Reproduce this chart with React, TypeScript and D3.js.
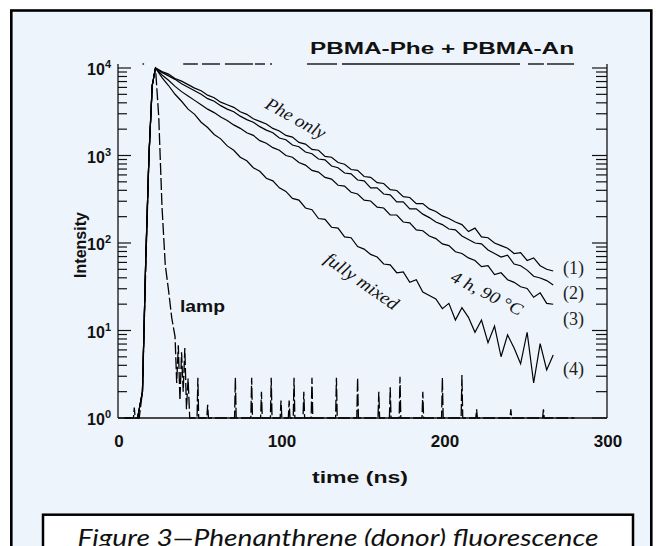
import React from 'react';
import * as d3 from 'd3';

const W = 656;
const H = 546;

// x ticks (ns) and y decades
const xTickValues = [0, 100, 200, 300];
const yDecadeExps = [0, 1, 2, 3, 4];

// shared rise of the decays (time ns, log10 counts)
const riseTimes = [12, 15, 17, 19, 21, 23];
const riseLog = [0, 0.3, 1.8, 3.0, 3.8, 4.0];

// decay sampling times (ns)
const decayTimes = [27, 31, 35, 39, 43, 47, 51, 55, 59, 63, 67, 71, 75, 79, 83, 87, 91, 95, 99, 103, 107, 111, 115, 119, 123, 127, 131, 135, 139, 143, 147, 151, 155, 159, 163, 167, 171, 175, 179, 183, 187, 191, 195, 199, 203, 207, 211, 215, 219, 223, 227, 231, 235, 239, 243, 247, 251, 255, 259, 263, 267];

// (1) Phe only, log10 counts
const pheOnlyLog = [
  3.96, 3.93, 3.88, 3.85, 3.81, 3.77, 3.74, 3.69, 3.66, 3.61,
  3.58, 3.55, 3.50, 3.47, 3.42, 3.39, 3.36, 3.31, 3.28, 3.23,
  3.21, 3.15, 3.13, 3.07, 3.06, 2.99, 2.98, 2.92, 2.90, 2.84,
  2.83, 2.76, 2.75, 2.69, 2.68, 2.61, 2.60, 2.53, 2.52, 2.45,
  2.45, 2.39, 2.36, 2.31, 2.28, 2.24, 2.21, 2.13, 2.17, 2.07,
  2.06, 2.00, 1.97, 1.94, 1.88, 1.89, 1.80, 1.83, 1.74, 1.70,
  1.68,
];
// (2)
const curve2Log = [
  3.95, 3.91, 3.87, 3.82, 3.78, 3.74, 3.70, 3.65, 3.62, 3.57,
  3.53, 3.50, 3.45, 3.41, 3.38, 3.33, 3.29, 3.26, 3.20, 3.18,
  3.12, 3.10, 3.04, 3.02, 2.96, 2.95, 2.88, 2.86, 2.80, 2.79,
  2.72, 2.71, 2.63, 2.63, 2.56, 2.55, 2.47, 2.47, 2.39, 2.39,
  2.33, 2.29, 2.24, 2.21, 2.16, 2.15, 2.08, 2.04, 2.00, 1.99,
  1.92, 1.88, 1.84, 1.86, 1.76, 1.74, 1.69, 1.62, 1.60, 1.57,
  1.52,
];
// (3) 4 h, 90 °C
const curve3Log = [
  3.92, 3.86, 3.79, 3.73, 3.68, 3.63, 3.58, 3.53, 3.49, 3.44,
  3.40, 3.35, 3.31, 3.26, 3.23, 3.17, 3.14, 3.09, 3.06, 3.00,
  2.98, 2.92, 2.89, 2.83, 2.81, 2.75, 2.73, 2.66, 2.65, 2.58,
  2.56, 2.49, 2.48, 2.41, 2.40, 2.32, 2.32, 2.24, 2.23, 2.15,
  2.14, 2.08, 2.05, 1.99, 1.97, 1.90, 1.88, 1.83, 1.80, 1.73,
  1.74, 1.64, 1.66, 1.58, 1.55, 1.50, 1.48, 1.38, 1.43, 1.31,
  1.30,
];
// (4) fully mixed
const fullyMixedLog = [
  3.89, 3.80, 3.70, 3.62, 3.53, 3.47, 3.38, 3.32, 3.24, 3.19,
  3.11, 3.06, 2.98, 2.94, 2.86, 2.82, 2.74, 2.71, 2.63, 2.59,
  2.51, 2.49, 2.40, 2.38, 2.28, 2.27, 2.18, 2.17, 2.07, 2.06,
  1.96, 1.93, 1.87, 1.84, 1.76, 1.75, 1.66, 1.67, 1.55, 1.58,
  1.44, 1.40, 1.36, 1.25, 1.31, 1.12, 1.26, 1.15, 0.98, 1.12,
  0.86, 1.05, 0.70, 0.95, 0.80, 0.62, 0.98, 0.40, 0.85, 0.55,
  0.72,
];

// lamp profile (time ns, log10 counts)
const lampTimes = [4, 9.5, 10, 10.5, 13, 15, 17, 19, 21, 23, 25, 27, 29, 31, 33, 35, 36, 37, 38, 39, 40, 41, 42, 43, 44, 48.5, 49, 49.5, 54.5, 55, 55.5, 71.5, 72, 72.5, 81.5, 82, 82.5, 87.5, 88, 88.5, 93.5, 94, 94.5, 99.5, 100, 100.5, 104.5, 105, 105.5, 107.5, 108, 108.5, 113.5, 114, 114.5, 118.5, 119, 119.5, 133.5, 134, 134.5, 146.5, 147, 147.5, 159.5, 160, 160.5, 166.5, 167, 167.5, 172.5, 173, 173.5, 186.5, 187, 187.5, 198.5, 199, 199.5, 210.5, 211, 211.5, 219.5, 220, 220.5, 240.5, 241, 241.5, 260.5, 261, 261.5, 280];
const lampLog = [0, 0, 0.12, 0, 0, 0.3, 1.7, 3.0, 3.8, 4.0, 3.44, 2.41, 1.75, 1.46, 1.14, 0.93, 0.4, 0.83, 0.2, 0.75, 0.3, 0.8, 0.1, 0.45, 0, 0, 0.46, 0, 0, 0.15, 0, 0, 0.46, 0, 0, 0.46, 0, 0, 0.3, 0, 0, 0.46, 0, 0, 0.2, 0, 0, 0.2, 0, 0, 0.46, 0, 0, 0.3, 0, 0, 0.46, 0, 0, 0.46, 0, 0, 0.46, 0, 0, 0.3, 0, 0, 0.35, 0, 0, 0.47, 0, 0, 0.3, 0, 0, 0.46, 0, 0, 0.49, 0, 0, 0.1, 0, 0, 0.1, 0, 0, 0.1, 0, 0];

// broken top rule of the frame, in ns
const topRuleSegments = [[15, 16], [40, 49], [51.5, 62.6], [65.6, 82.8], [84, 90.2], [93.3, 94.5], [116, 134.4], [137.4, 246.6], [251.5, 261.3], [263.2, 279.8]];

const seriesLabels = ['(1)', '(2)', '(3)', '(4)'];

const title = 'PBMA-Phe  +  PBMA-An';
const caption = 'Figure 3\u2014Phenanthrene (donor) fluorescence';

export default function App() {
  const x = d3.scaleLinear().domain([0, 300]).range([118, 607]);
  const y = d3.scaleLog().domain([1, 10000]).range([418, 68]);
  const frameTop = 64;
  const xL = x(0);
  const xR = x(300);
  const yB = y(1);

  const line = d3
    .line<{ t: number; v: number }>()
    .x((d) => x(d.t))
    .y((d) => y(d.v));

  const mk = (logs: number[]) => [
    ...riseTimes.map((t, i) => ({ t, v: Math.pow(10, riseLog[i]) })),
    ...decayTimes.map((t, i) => ({ t, v: Math.pow(10, logs[i]) })),
  ];
  const curves = [pheOnlyLog, curve2Log, curve3Log, fullyMixedLog].map(mk);
  const lamp = lampTimes.map((t, i) => ({ t, v: Math.pow(10, lampLog[i]) }));

  const minorTicks: { v: number; major: boolean }[] = [];
  for (let e = 0; e < 4; e++) {
    for (let m = 1; m <= 9; m++) minorTicks.push({ v: m * Math.pow(10, e), major: m === 1 });
  }
  minorTicks.push({ v: 10000, major: true });

  const serif = '"Liberation Serif", "Times New Roman", serif';
  const sans = '"Liberation Sans", Arial, Helvetica, sans-serif';

  const labelYs = [268, 293, 319, 369];

  return (
    <svg width={W} height={H} style={{ position: 'absolute', left: 0, top: 0 }}>
      <rect x={0} y={0} width={W} height={H} fill="#ffffff" />
      <rect x={11.3} y={10.5} width={640} height={580} fill="#EEF4FB" stroke="#000" strokeWidth={2.6} />

      {/* title */}
      <text x={574} y={54} textAnchor="end" fontFamily={sans} fontWeight="bold" fontSize={16} textLength={264} lengthAdjust="spacingAndGlyphs" fill="#111">
        {title}
      </text>

      {/* top rule */}
      {topRuleSegments.map(([a, b], i) => (
        <line key={'tr' + i} x1={x(a)} x2={x(b)} y1={frameTop} y2={frameTop} stroke="#111" strokeWidth={1.4} />
      ))}

      {/* spines */}
      <line x1={xL} x2={xL} y1={frameTop} y2={yB} stroke="#111" strokeWidth={1.3} />
      <line x1={xR} x2={xR} y1={frameTop} y2={yB} stroke="#111" strokeWidth={1.3} />
      <line x1={xL} x2={xR} y1={yB} y2={yB} stroke="#111" strokeWidth={1.6} />

      {/* y ticks */}
      {minorTicks.map((tk, i) => {
        const len = tk.major ? 13 : 9;
        const yy = y(tk.v);
        return (
          <g key={'yt' + i}>
            <line x1={xL} x2={xL + len} y1={yy} y2={yy} stroke="#111" strokeWidth={1.2} />
            <line x1={xR} x2={xR - len - 2} y1={yy} y2={yy} stroke="#111" strokeWidth={1.2} />
          </g>
        );
      })}

      {/* y tick labels */}
      {yDecadeExps.map((e) => (
        <text key={'yl' + e} x={111} y={y(Math.pow(10, e)) + 7} textAnchor="end" fontFamily={sans} fontWeight="bold" fontSize={16} fill="#111">
          10
          <tspan fontSize={11} dy={-7}>{e}</tspan>
        </text>
      ))}

      {/* x tick labels */}
      {xTickValues.map((v) => (
        <text key={'xl' + v} x={x(v) + 1} y={447} textAnchor="middle" fontFamily={sans} fontWeight="bold" fontSize={17} fill="#111">
          {v}
        </text>
      ))}

      {/* axis titles */}
      <text x={360} y={483} textAnchor="middle" fontFamily={sans} fontWeight="bold" fontSize={17} textLength={96} lengthAdjust="spacingAndGlyphs" fill="#111">
        time  (ns)
      </text>
      <text transform="translate(86,245) rotate(-90)" textAnchor="middle" fontFamily={sans} fontWeight="bold" fontSize={16} fill="#111">
        Intensity
      </text>

      {/* curves */}
      <path d={line(lamp) || ''} fill="none" stroke="#000" strokeWidth={1.3} strokeDasharray="12 3" />
      {curves.map((c, i) => (
        <path key={'c' + i} d={line(c) || ''} fill="none" stroke="#000" strokeWidth={1.2} />
      ))}

      {/* inline labels */}
      <text transform="translate(296,118) rotate(29)" textAnchor="middle" dy="0.35em" fontFamily={serif} fontStyle="italic" fontSize={18} textLength={66} lengthAdjust="spacingAndGlyphs" fill="#111">
        Phe only
      </text>
      <text transform="translate(362,281) rotate(35)" textAnchor="middle" dy="0.35em" fontFamily={serif} fontStyle="italic" fontSize={18} textLength={86} lengthAdjust="spacingAndGlyphs" fill="#111">
        fully mixed
      </text>
      <text transform="translate(487,293) rotate(27)" textAnchor="middle" dy="0.35em" fontFamily={serif} fontStyle="italic" fontSize={17} textLength={78} lengthAdjust="spacingAndGlyphs" fill="#111">
        4 h, 90 °C
      </text>
      <text x={180} y={312} fontFamily={sans} fontWeight="bold" fontSize={16} textLength={45} lengthAdjust="spacingAndGlyphs" fill="#111">
        lamp
      </text>
      {seriesLabels.map((s, i) => (
        <text key={'sl' + i} x={563} y={labelYs[i] + 6} fontFamily={serif} fontSize={18} fill="#222">
          {s}
        </text>
      ))}

      {/* caption */}
      <rect x={43} y={514.7} width={590} height={60} fill="#ffffff" stroke="#000" strokeWidth={2.5} />
      <text x={338} y={546} textAnchor="middle" fontFamily='Lato, "Open Sans", sans-serif' fontStyle="italic" fontSize={24} textLength={521} lengthAdjust="spacingAndGlyphs" fill="#111">
        {caption}
      </text>
    </svg>
  );
}
